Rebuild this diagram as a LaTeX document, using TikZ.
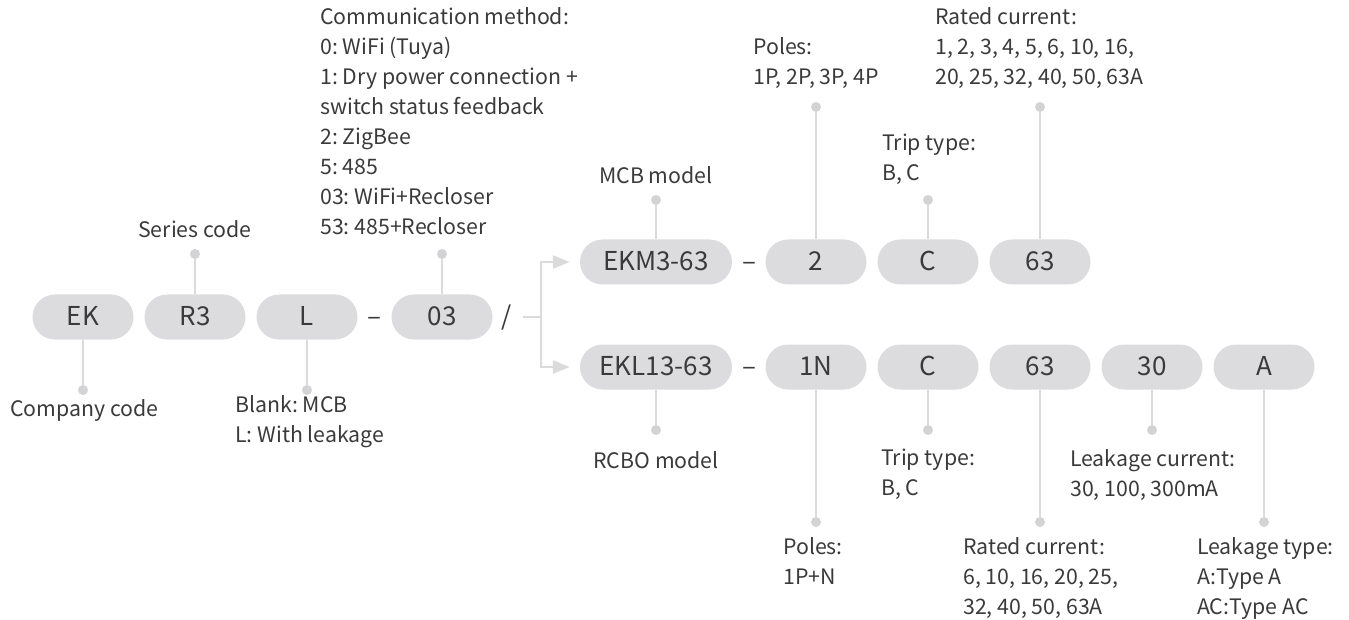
\documentclass[tikz,border=0pt]{standalone}
\usepackage{fontspec}
\setmainfont{Noto Sans CJK SC}
\usetikzlibrary{arrows.meta}
\definecolor{txt}{HTML}{3A3A3A}
\definecolor{pillfill}{HTML}{DCDCDE}
\definecolor{linec}{HTML}{DBDBDB}
\definecolor{dotc}{HTML}{D3D3D5}
\newcommand{\lblfont}{\fontsize{21.3}{30}\selectfont\frenchspacing}
\newcommand{\pillfont}{\fontsize{26}{30}\selectfont}
\tikzset{
  pill/.style={fill=pillfill, rounded corners=22.5pt, minimum width=101pt, minimum height=45pt,
    inner sep=0pt, text=txt, font=\pillfont, text height=17pt, text depth=0pt},
  widepill/.style={pill, minimum width=152pt},
  sep/.style={inner sep=0pt, text=txt, font=\pillfont, text height=17pt, text depth=0pt},
  lbl/.style={inner sep=0pt, anchor=north west, align=left, text=txt, font=\lblfont,
    execute at begin node=\strut},
  clbl/.style={inner sep=0pt, anchor=base, text=txt, font=\lblfont},
  dotn/.style={circle, fill=dotc, minimum size=10pt, inner sep=0pt},
  conn/.style={draw=linec, line width=2.7pt},
  arr/.style={conn, -{Triangle[length=17pt,width=13pt,fill=linec]}, shorten >=10pt}
}
\begin{document}
\begin{tikzpicture}[x=1pt,y=-1pt]
\useasboundingbox (0,0) rectangle (1349,620);
% first row
\node[pill] (ek) at (83,317) {EK};
\node[pill] (r3) at (195,317) {R3};
\node[pill] (l) at (307,317) {L};
\node[sep] (dash1) at (374,317) {–};
\node[pill] (n03) at (442,317) {03};
\node[sep] (slash) at (507,317) {/};
\coordinate (bs) at (523,317);
\coordinate (br) at (541,317);
% MCB row
\node[widepill] (ekm) at (656,262) {EKM3-63};
\node[sep] (dash2) at (749,262) {–};
\node[pill] (m2) at (816,262) {2};
\node[pill] (mc) at (928,262) {C};
\node[pill] (m63) at (1040,262) {63};
% RCBO row
\node[widepill] (ekl) at (656,367) {EKL13-63};
\node[sep] (dash3) at (749,367) {–};
\node[pill] (r1n) at (816,367) {1N};
\node[pill] (rc) at (928,367) {C};
\node[pill] (r63) at (1040,367) {63};
\node[pill] (r30) at (1152,367) {30};
\node[pill] (ra) at (1264,367) {A};
% dots
\node[dotn] (dek) at (83,390) {};
\node[dotn] (dr3) at (195,254) {};
\node[dotn] (dl) at (307,390) {};
\node[dotn] (d03) at (442,254) {};
\node[dotn] (dekm) at (656,200) {};
\node[dotn] (dm2) at (816,107) {};
\node[dotn] (dmc) at (928,200) {};
\node[dotn] (dm63) at (1040,107) {};
\node[dotn] (dekl) at (656,430) {};
\node[dotn] (dr1n) at (816,522) {};
\node[dotn] (drc) at (928,430) {};
\node[dotn] (dr63) at (1040,522) {};
\node[dotn] (dr30) at (1152,430) {};
\node[dotn] (dra) at (1264,522) {};
% connectors
\draw[conn] (ek) -- (dek);
\draw[conn] (r3) -- (dr3);
\draw[conn] (l) -- (dl);
\draw[conn] (n03) -- (d03);
\draw[conn] (ekm) -- (dekm);
\draw[conn] (m2) -- (dm2);
\draw[conn] (mc) -- (dmc);
\draw[conn] (m63) -- (dm63);
\draw[conn] (ekl) -- (dekl);
\draw[conn] (r1n) -- (dr1n);
\draw[conn] (rc) -- (drc);
\draw[conn] (r63) -- (dr63);
\draw[conn] (r30) -- (dr30);
\draw[conn] (ra) -- (dra);
\draw[conn] (bs) -- (br);
\draw[arr] (br) |- (ekm.west);
\draw[arr] (br) |- (ekl.west);
% labels
\node[lbl] (tcompany) at (10,395) {Company code};
\node[clbl] (tseries) at (195,238) {Series code};
\node[lbl] (tblank) at (235,395) {Blank: MCB\\L: With leakage};
\node[lbl] (tcomm) at (320,7) {Communication method:\\0: WiFi (Tuya)\\1: Dry power connection +\\switch status feedback\\2: ZigBee\\5: 485\\03: WiFi+Recloser\\53: 485+Recloser};
\node[clbl] (tmcb) at (656,184) {MCB model};
\node[lbl] (tpoles1) at (753,37) {Poles:\\1P, 2P, 3P, 4P};
\node[lbl] (ttrip1) at (882,134) {Trip type:\\B, C};
\node[lbl] (trated1) at (935,7) {Rated current:\\1, 2, 3, 4, 5, 6, 10, 16,\\20, 25, 32, 40, 50, 63A};
\node[clbl] (trcbo) at (656,468) {RCBO model};
\node[lbl] (tpoles2) at (783,537) {Poles:\\1P+N};
\node[lbl] (ttrip2) at (881,449) {Trip type:\\B, C};
\node[lbl] (trated2) at (963,537) {Rated current:\\6, 10, 16, 20, 25,\\32, 40, 50, 63A};
\node[lbl] (tleak1) at (1070,449) {Leakage current:\\30, 100, 300mA};
\node[lbl] (tleak2) at (1197,537) {Leakage type:\\A:Type A\\AC:Type AC};
\end{tikzpicture}
\end{document}
